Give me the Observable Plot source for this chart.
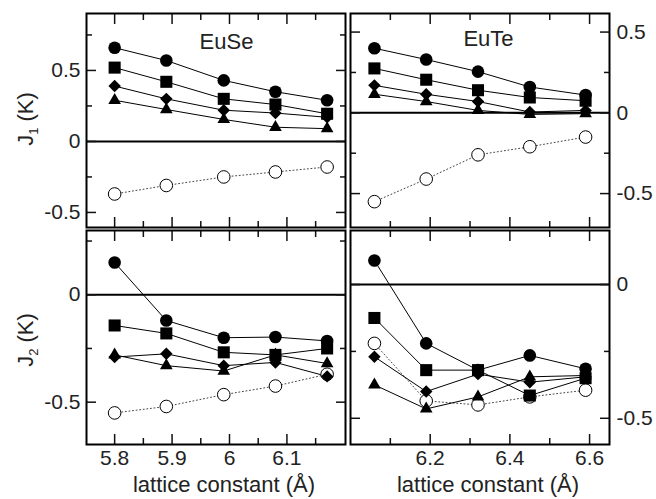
<!DOCTYPE html>
<html><head><meta charset="utf-8">
<script src="https://cdn.jsdelivr.net/npm/d3@7"></script>
<script src="https://cdn.jsdelivr.net/npm/@observablehq/plot@0.6"></script>
<style>
html,body{margin:0;padding:0;background:#fff;}
#chart{position:relative;width:656px;height:499px;overflow:hidden;}
#chart svg{position:absolute;left:0;top:0;}
#chart svg g[aria-label="x-axis tick label"], #chart svg g[aria-label="y-axis tick label"]{font-size:21px !important;}
</style></head><body><div id="chart"></div>
<script>
// ---- data ----
const euseLattice = [5.80, 5.89, 5.99, 6.08, 6.17];
const euteLattice = [6.06, 6.19, 6.32, 6.45, 6.59];

// EuSe J1
const euseJ1Circle   = [0.66, 0.57, 0.43, 0.35, 0.29];
const euseJ1Square   = [0.52, 0.42, 0.30, 0.26, 0.195];
const euseJ1Diamond  = [0.39, 0.30, 0.22, 0.20, 0.17];
const euseJ1Triangle = [0.29, 0.225, 0.155, 0.10, 0.09];
const euseJ1Open     = [-0.37, -0.31, -0.25, -0.215, -0.18];
// EuTe J1
const euteJ1Circle   = [0.40, 0.33, 0.255, 0.16, 0.11];
const euteJ1Square   = [0.275, 0.205, 0.14, 0.095, 0.075];
const euteJ1Diamond  = [0.17, 0.115, 0.07, 0.005, 0.015];
const euteJ1Triangle = [0.115, 0.07, 0.015, -0.01, -0.005];
const euteJ1Open     = [-0.55, -0.41, -0.26, -0.21, -0.15];
// EuSe J2
const euseJ2Circle   = [0.15, -0.12, -0.20, -0.197, -0.215];
const euseJ2Square   = [-0.143, -0.18, -0.268, -0.28, -0.25];
const euseJ2Diamond  = [-0.29, -0.275, -0.33, -0.315, -0.38];
const euseJ2Triangle = [-0.28, -0.33, -0.355, -0.28, -0.32];
const euseJ2Open     = [-0.55, -0.52, -0.465, -0.425, -0.37];
// EuTe J2
const euteJ2Circle   = [0.09, -0.22, -0.32, -0.265, -0.315];
const euteJ2Square   = [-0.125, -0.32, -0.32, -0.415, -0.35];
const euteJ2Diamond  = [-0.27, -0.40, -0.335, -0.365, -0.345];
const euteJ2Triangle = [-0.375, -0.465, -0.42, -0.345, -0.34];
const euteJ2Open     = [-0.22, -0.435, -0.45, -0.42, -0.395];

// tick values / labels
const euseXMajor = [5.8, 5.9, 6.0, 6.1];
const euseXMinor = [5.85, 5.95, 6.05, 6.15];
const euteXMajor = [6.2, 6.4, 6.6];
const euteXMinor = [6.1, 6.3, 6.5];
const yMajorTop = [-0.5, 0, 0.5];
const yMinorTL = [-0.25, 0.25, 0.75];
const yMinorTR = [-0.25, 0.25];
const yMajorBottom = [-0.5, 0];
const yMinorBL = [-0.25, 0.25];
const yMinorBR = [-0.25];

const panelNames = ["EuSe", "EuTe"];
const xTitle = "lattice constant (Å)";
const yTitles = [["J", "1", " (K)"], ["J", "2", " (K)"]];

// ---- build ----
const W = 656, H = 499;
const FONT = "'Liberation Sans', Arial, Helvetica, sans-serif";

function rows(lattice, s) {
  const out = [];
  for (const key of ["open", "circle", "square", "diamond", "triangle"]) {
    s[key].forEach((v, i) => out.push({x: lattice[i], y: v, series: key}));
  }
  return out;
}

function panel(o) {
  const data = o.data;
  const filled = data.filter(d => d.series !== "open");
  const open = data.filter(d => d.series === "open");
  const TL = 10, TS = 6;
  const marks = [
    Plot.ruleY([0], {stroke: "black", strokeWidth: 2}),
    Plot.line(open, {x: "x", y: "y", stroke: "#444", strokeWidth: 1, strokeDasharray: "1,2.6"}),
    Plot.line(filled, {x: "x", y: "y", z: "series", stroke: "black", strokeWidth: 1}),
    Plot.dot(open, {x: "x", y: "y", r: 6.3, fill: "white", stroke: "black", strokeWidth: 1}),
    Plot.dot(filled.filter(d => d.series === "circle"), {x: "x", y: "y", symbol: "circle", r: 6.3, fill: "black"}),
    Plot.dot(filled.filter(d => d.series === "square"), {x: "x", y: "y", symbol: "square", r: 6.8, fill: "black"}),
    Plot.dot(filled.filter(d => d.series === "diamond"), {x: "x", y: "y", symbol: "diamond2", r: 5.6, fill: "black"}),
    Plot.dot(filled.filter(d => d.series === "triangle"), {x: "x", y: "y", symbol: "triangle", r: 4.7, fill: "black"}),
    // inward ticks
    Plot.axisX(o.xMajor, {anchor: "bottom", tickSize: TL, dy: -TL, text: null, label: null, strokeWidth: 1.5}),
    Plot.axisX(o.xMinor, {anchor: "bottom", tickSize: TS, dy: -TS, text: null, label: null, strokeWidth: 1.5}),
    Plot.axisX(o.xMajor, {anchor: "top", tickSize: TL, dy: TL, text: null, label: null, strokeWidth: 1.5}),
    Plot.axisX(o.xMinor, {anchor: "top", tickSize: TS, dy: TS, text: null, label: null, strokeWidth: 1.5}),
    Plot.axisY(o.yMajor, {anchor: "left", tickSize: TL, dx: TL, text: null, label: null, strokeWidth: 1.5}),
    Plot.axisY(o.yMinor, {anchor: "left", tickSize: TS, dx: TS, text: null, label: null, strokeWidth: 1.5}),
    Plot.axisY(o.yMajor, {anchor: "right", tickSize: TL, dx: -TL, text: null, label: null, strokeWidth: 1.5}),
    Plot.axisY(o.yMinor, {anchor: "right", tickSize: TS, dx: -TS, text: null, label: null, strokeWidth: 1.5}),
    // tick labels
    Plot.axisY(o.yMajor, {anchor: o.ySide, tickSize: 0, tickPadding: o.ySide === "left" ? 6 : 7, label: null,
      fontSize: 21, tickFormat: d => String(d), fill: "#222"}),
    Plot.frame({stroke: "black", strokeWidth: 2})
  ];
  if (o.showX) {
    marks.push(Plot.axisX(o.xMajor, {anchor: "bottom", tickSize: 0, tickPadding: 6, label: null,
      fontSize: 21, tickFormat: d => String(d), fill: "#222"}));
    marks.push(Plot.text([xTitle], {text: d => d, frameAnchor: "bottom", lineAnchor: "middle", dy: 40, dx: 8,
      fontSize: 22, fill: "#222"}));
  }
  if (o.name) {
    marks.push(Plot.text([o.name], {text: d => d, frameAnchor: "top", lineAnchor: "middle", dy: o.nameDy, dx: o.nameDx,
      fontSize: 22, fill: "#222"}));
  }
  const svg = Plot.plot({
    width: W, height: H,
    marginLeft: o.box[0], marginRight: W - o.box[1], marginTop: o.box[2], marginBottom: H - o.box[3],
    x: {domain: o.xDomain},
    y: {domain: o.yDomain},
    style: {background: "transparent", overflow: "visible", fontFamily: FONT, color: "#111"},
    marks
  });
  return svg;
}

const chart = document.getElementById("chart");

const pTL = panel({
  data: rows(euseLattice, {circle: euseJ1Circle, square: euseJ1Square, diamond: euseJ1Diamond, triangle: euseJ1Triangle, open: euseJ1Open}),
  xDomain: [5.751, 6.202], yDomain: [-0.606, 0.901], box: [86, 345, 13, 227],
  xMajor: euseXMajor, xMinor: euseXMinor, yMajor: yMajorTop, yMinor: yMinorTL, ySide: "left",
  name: panelNames[0], nameDx: 10.5, nameDy: 28, showX: false
});
const pTR = panel({
  data: rows(euteLattice, {circle: euteJ1Circle, square: euteJ1Square, diamond: euteJ1Diamond, triangle: euteJ1Triangle, open: euteJ1Open}),
  xDomain: [6.0, 6.65], yDomain: [-0.71, 0.615], box: [350, 609, 13, 227],
  xMajor: euteXMajor, xMinor: euteXMinor, yMajor: yMajorTop, yMinor: yMinorTR, ySide: "right",
  name: panelNames[1], nameDx: 8.5, nameDy: 25, showX: false
});
const pBL = panel({
  data: rows(euseLattice, {circle: euseJ2Circle, square: euseJ2Square, diamond: euseJ2Diamond, triangle: euseJ2Triangle, open: euseJ2Open}),
  xDomain: [5.751, 6.202], yDomain: [-0.697, 0.299], box: [86, 345, 230, 444],
  xMajor: euseXMajor, xMinor: euseXMinor, yMajor: yMajorBottom, yMinor: yMinorBL, ySide: "left",
  name: null, showX: true
});
const pBR = panel({
  data: rows(euteLattice, {circle: euteJ2Circle, square: euteJ2Square, diamond: euteJ2Diamond, triangle: euteJ2Triangle, open: euteJ2Open}),
  xDomain: [6.0, 6.65], yDomain: [-0.598, 0.202], box: [350, 609, 230, 444],
  xMajor: euteXMajor, xMinor: euteXMinor, yMajor: yMajorBottom, yMinor: yMinorBR, ySide: "right",
  name: null, showX: true
});

[pTL, pTR, pBL, pBR].forEach(s => chart.appendChild(s));

// y-axis titles with subscripts
function yTitle(svg, parts, cy) {
  const t = d3.select(svg).append("text")
    .attr("transform", `translate(33,${cy}) rotate(-90)`)
    .attr("text-anchor", "middle")
    .attr("font-family", FONT).attr("font-size", 22).attr("fill", "#222");
  t.append("tspan").text(parts[0]);
  t.append("tspan").attr("font-size", 13).attr("dy", 5).text(parts[1]);
  t.append("tspan").attr("dy", -5).text(parts[2]);
}
yTitle(pTL, yTitles[0], 119);
yTitle(pBL, yTitles[1], 340);
</script>
</body></html>
